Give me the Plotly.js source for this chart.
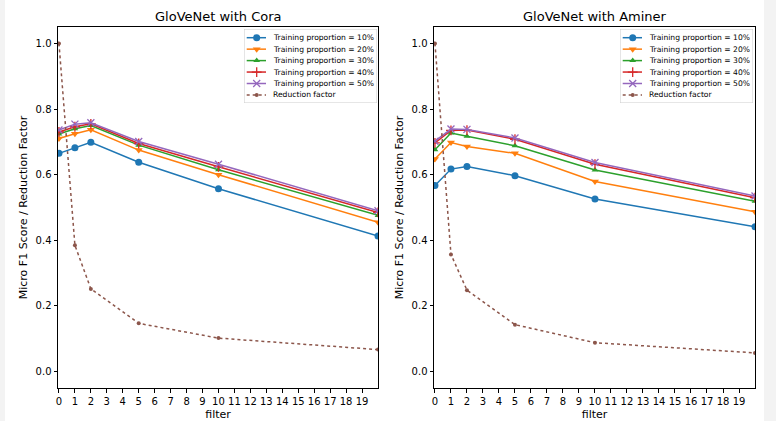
<!DOCTYPE html>
<html>
<head>
<meta charset="utf-8">
<script src="https://cdn.plot.ly/plotly-3.0.1.min.js"></script>
<style>html,body{margin:0;padding:0;background:#fff;}#chart{width:776px;height:421px;}</style>
</head>
<body>
<div id="chart"></div>
<script>
const filters = [0, 1, 2, 5, 10, 20];
const seriesNames = ["Training proportion = 10%", "Training proportion = 20%", "Training proportion = 30%", "Training proportion = 40%", "Training proportion = 50%", "Reduction factor"];

const cora10 = [0.665, 0.682, 0.699, 0.638, 0.557, 0.413];
const cora20 = [0.710, 0.725, 0.737, 0.675, 0.600, 0.455];
const cora30 = [0.724, 0.740, 0.750, 0.690, 0.615, 0.476];
const cora40 = [0.730, 0.746, 0.755, 0.695, 0.624, 0.485];
const cora50 = [0.736, 0.754, 0.758, 0.701, 0.632, 0.490];
const coraReduction = [1.0, 0.385, 0.252, 0.147, 0.102, 0.067];

const aminer10 = [0.567, 0.617, 0.625, 0.597, 0.526, 0.441];
const aminer20 = [0.648, 0.698, 0.686, 0.665, 0.579, 0.487];
const aminer30 = [0.676, 0.727, 0.717, 0.688, 0.614, 0.519];
const aminer40 = [0.697, 0.735, 0.736, 0.708, 0.632, 0.530];
const aminer50 = [0.702, 0.739, 0.738, 0.712, 0.637, 0.535];
const aminerReduction = [1.0, 0.357, 0.248, 0.143, 0.088, 0.057];

const xTicks = [0,1,2,3,4,5,6,7,8,9,10,11,12,13,14,15,16,17,18,19];
const yTicks = [0.0, 0.2, 0.4, 0.6, 0.8, 1.0];
const titles = ["GloVeNet with Cora", "GloVeNet with Aminer"];

const colors = ["#1f77b4", "#ff7f0e", "#2ca02c", "#d62728", "#9467bd", "#8c564b"];
const symbols = ["circle", "triangle-down", "triangle-up", "cross-thin", "x-thin", "circle"];
const sizes = [7, 7, 6, 7, 7, 4];

function styleFor(i) {
  const isRed = i === 5;
  return {
    line: {color: colors[i], width: 1.5, dash: isRed ? "dot" : "solid"},
    marker: {color: colors[i], symbol: symbols[i], size: sizes[i],
             line: {color: colors[i], width: (i === 3 || i === 4) ? 1.3 : 0}}
  };
}

function makeTraces(data, xa, ya) {
  return data.map((y, i) => Object.assign({
    x: filters, y: y, xaxis: xa, yaxis: ya,
    type: "scatter", mode: "lines+markers",
    name: seriesNames[i], showlegend: false
  }, styleFor(i)));
}

// custom compact legend (matplotlib-like spacing), drawn on its own hidden axes
const legendRowStep = 11.45, legendRowTop = 8.7;
function legendTraces(xa, ya) {
  return seriesNames.map((n, i) => {
    const s = styleFor(i);
    const row = legendRowTop + i * legendRowStep;
    s.marker.opacity = [0, 1, 0];
    return Object.assign({
      x: [2.7, 12.7, 22.0], y: [row, row, row], xaxis: xa, yaxis: ya,
      type: "scatter", mode: "lines+markers", showlegend: false, hoverinfo: "skip"
    }, s);
  });
}
function legendAnnotations(xa, ya) {
  return seriesNames.map((n, i) => ({
    text: n, xref: xa, yref: ya, x: 26.5, y: legendRowTop + i * legendRowStep,
    xanchor: "left", yanchor: "middle", showarrow: false,
    font: {family: "DejaVu Sans", size: 7.6, color: "#000"}
  }));
}
function legendBox(xa, ya) {
  return {type: "rect", xref: xa, yref: ya, x0: 0, x1: 133, y0: 0, y1: 74,
          fillcolor: "rgba(255,255,255,0.85)", line: {color: "#cccccc", width: 1}, layer: "below"};
}

const t1 = makeTraces([cora10, cora20, cora30, cora40, cora50, coraReduction], "x", "y");
const t2 = makeTraces([aminer10, aminer20, aminer30, aminer40, aminer50, aminerReduction], "x2", "y2");
const l1 = legendTraces("x3", "y3");
const l2 = legendTraces("x4", "y4");

const axisCommon = {
  showline: true, mirror: true, linecolor: "#000", linewidth: 1,
  ticks: "outside", ticklen: 3.5, tickcolor: "#000", tickwidth: 1,
  showgrid: false, zeroline: false,
  tickfont: {family: "DejaVu Sans", size: 10, color: "#000"}
};
function xAxis(domain, anchor) {
  return Object.assign({}, axisCommon, {
    domain: domain, anchor: anchor, range: [-0.06, 20],
    tickmode: "array", tickvals: xTicks, ticktext: xTicks.map(String),
    title: {text: "filter", font: {family: "DejaVu Sans", size: 11, color: "#000"}, standoff: 5}
  });
}
function yAxis(domain, anchor) {
  return Object.assign({}, axisCommon, {
    domain: domain, anchor: anchor, range: [-0.05, 1.05],
    tickmode: "array", tickvals: yTicks, ticktext: yTicks.map(v => v.toFixed(1)),
    title: {text: "Micro F1 Score / Reduction Factor", font: {family: "DejaVu Sans", size: 11, color: "#000"}, standoff: 5}
  });
}
function hiddenAxis(domain, anchor, range) {
  return {domain: domain, anchor: anchor, range: range, visible: false, fixedrange: true, showgrid: false, zeroline: false};
}
const yDom = [1 - 388/421, 1 - 27/421];
const legBoxY = [1 - 103/421, 1 - 29/421];
const legBoxX1 = [244/776, 377/776];
const legBoxX2 = [620/776, 753/776];

const layout = {
  width: 776, height: 421,
  margin: {l: 0, r: 0, t: 0, b: 0},
  paper_bgcolor: "#fff", plot_bgcolor: "rgba(0,0,0,0)",
  xaxis: xAxis([58/776, 378/776], "y"),
  yaxis: yAxis(yDom, "x"),
  xaxis2: xAxis([434/776, 755/776], "y2"),
  yaxis2: yAxis(yDom, "x2"),
  xaxis3: hiddenAxis(legBoxX1, "y3", [0, 133]),
  yaxis3: hiddenAxis(legBoxY, "x3", [74, 0]),
  xaxis4: hiddenAxis(legBoxX2, "y4", [0, 133]),
  yaxis4: hiddenAxis(legBoxY, "x4", [74, 0]),
  showlegend: false,
  annotations: titles.map((t, i) => ({
    text: t, xref: "paper", yref: "paper",
    x: i === 0 ? 218/776 : 594.5/776, y: 1 - 16/421,
    xanchor: "center", yanchor: "middle", showarrow: false,
    font: {family: "DejaVu Sans", size: 13, color: "#000"}
  })).concat(legendAnnotations("x3", "y3"), legendAnnotations("x4", "y4")),
  shapes: [
    {type: "rect", xref: "paper", yref: "paper", x0: 0, x1: 5/776, y0: 0, y1: 1, fillcolor: "#f3f3f3", line: {width: 0}, layer: "below"},
    {type: "rect", xref: "paper", yref: "paper", x0: 764/776, x1: 1, y0: 0, y1: 1, fillcolor: "#f3f3f3", line: {width: 0}, layer: "below"},
    legendBox("x3", "y3"),
    legendBox("x4", "y4")
  ]
};
Plotly.newPlot("chart", t1.concat(t2, l1, l2), layout, {staticPlot: true});
</script>
</body>
</html>
